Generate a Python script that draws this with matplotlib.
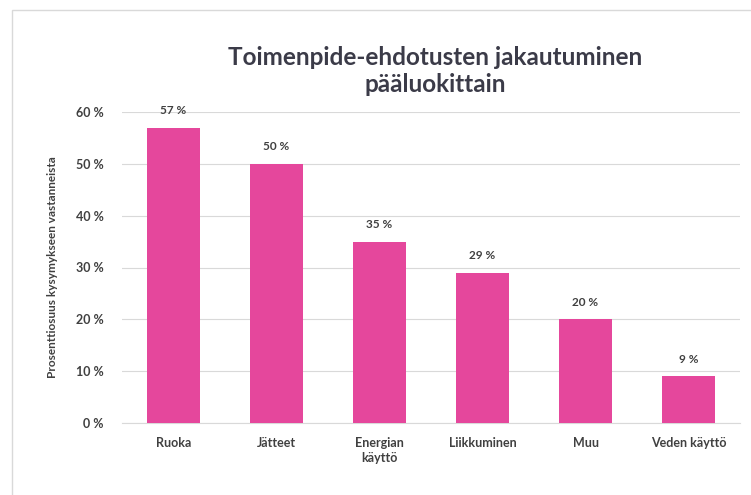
import matplotlib
matplotlib.use('Agg')
import matplotlib.pyplot as plt
from matplotlib.patches import Rectangle

# data
CATEGORIES = ['Ruoka', 'Jätteet', 'Energian\nkäyttö', 'Liikkuminen', 'Muu', 'Veden käyttö']
VALUES = [57, 50, 35, 29, 20, 9]
YTICKS = [0, 10, 20, 30, 40, 50, 60]

BAR_COLOR = '#e5479c'
TEXT_COLOR = '#404040'

plt.rcParams['font.family'] = ['Lato', 'DejaVu Sans']

fig = plt.figure(figsize=(7.51, 4.95), dpi=100)
fig.patch.set_facecolor('white')

# light frame around the chart area
fig.patches.append(Rectangle((12/751, -0.05), 1.0, 1 - 10/495 + 0.05,
                             transform=fig.transFigure, fill=False,
                             edgecolor='#d9d9d9', linewidth=1.0))

ax = fig.add_axes([122/751, 1 - 423/495, (740 - 122)/751, (423 - 112)/495])

x = range(len(CATEGORIES))
bars = ax.bar(x, VALUES, width=0.52, color=BAR_COLOR, zorder=3)
for b, v in zip(bars, VALUES):
	ax.text(b.get_x() + b.get_width()/2, v + 2.2, f'{v} %', ha='center', va='bottom',
			fontsize=8.5, fontweight='bold', color=TEXT_COLOR, clip_on=False)

ax.set_xlim(-0.5, len(CATEGORIES) - 0.5)
ax.set_ylim(0, 60)
ax.set_yticks(YTICKS)
ax.set_yticklabels([f'{t} %' for t in YTICKS])
ax.set_xticks(list(x))
ax.set_xticklabels(CATEGORIES, linespacing=1.3)

ax.grid(axis='y', color='#d9d9d9', linewidth=0.8, zorder=0)
for s in ['top', 'right', 'left']:
	ax.spines[s].set_visible(False)
ax.spines['bottom'].set_color('#d9d9d9')
ax.tick_params(axis='both', length=0, labelsize=9, colors=TEXT_COLOR)
ax.tick_params(axis='y', pad=13)
ax.tick_params(axis='x', pad=10)
for lab in ax.get_xticklabels() + ax.get_yticklabels():
	lab.set_fontweight('bold')

ax.set_ylabel('Prosenttiosuus kysymykseen vastanneista', fontsize=8.5, fontweight='bold',
			  color=TEXT_COLOR, labelpad=13)

fig.text(435/751, 1 - 71/495, 'Toimenpide-ehdotusten jakautuminen\npääluokittain',
		 ha='center', va='center', fontsize=17.5, fontweight='bold', color='#3b3b48',
		 linespacing=1.2)

fig.savefig('out.png', dpi=100, facecolor='white')
